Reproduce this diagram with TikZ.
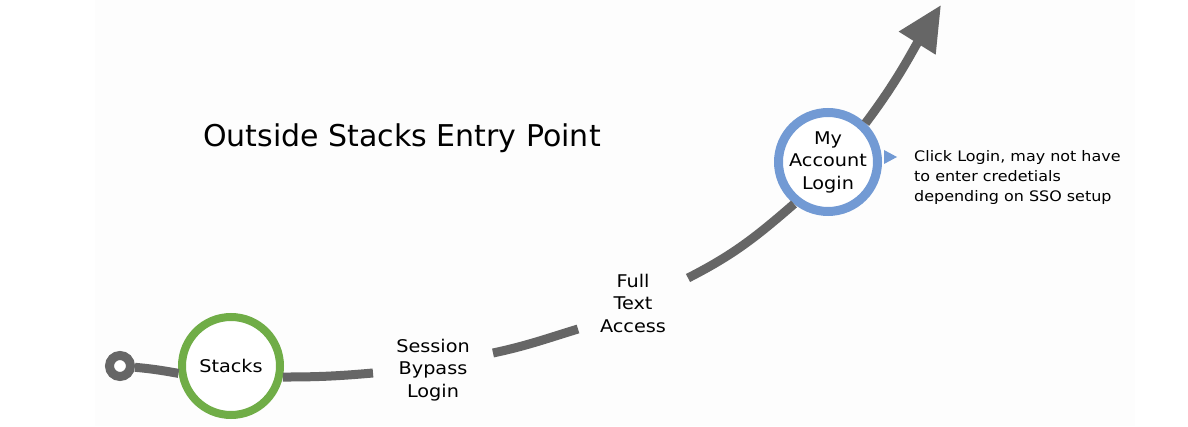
\documentclass[tikz,border=0pt]{standalone}
\usepackage{fontspec}
\setmainfont{DejaVu Sans}
\newfontfamily\widefont{DejaVu Sans}[FakeStretch=1.1]
\usetikzlibrary{arrows.meta}
\definecolor{pathgray}{HTML}{666666}
\definecolor{stackgreen}{HTML}{70AD47}
\definecolor{acctblue}{HTML}{729AD4}
\definecolor{faintbg}{HTML}{FDFDFD}
\tikzset{
  ring/.style={circle, draw, fill=white, inner sep=0pt},
  lblfont/.style={font=\widefont\fontsize{17.5pt}{22.5pt}\selectfont},
  lbl/.style={align=center, lblfont, inner sep=0pt},
  track/.style={draw=pathgray, line width=9pt},
}
\begin{document}
\begin{tikzpicture}[x=1pt,y=1pt]
\useasboundingbox (0,0) rectangle (1188,426);
\fill[white] (0,0) rectangle (1188,426);
\fill[faintbg] (95,0) rectangle (1135,426);

% nodes
\node[ring, draw=pathgray, line width=9pt, minimum size=21pt] (start) at (120,60) {};
\node[ring, draw=stackgreen, line width=8pt, minimum size=98pt, lblfont] (stacks) at (231,60) {Stacks};
\node[ring, draw=acctblue, line width=9pt, minimum size=95pt, align=center, lblfont] (acct) at (828,264) {My\\Account\\Login};
\node[lbl] (sbl) at (433,56) {Session\\Bypass\\Login};
\node[lbl] (fta) at (633,123) {Full\\Text\\Access};
\node[font=\fontsize{30pt}{36pt}\selectfont, inner sep=0pt] (title) at (402,288) {Outside Stacks Entry Point};
\node[anchor=west, align=left, font=\widefont\fontsize{14.5pt}{20pt}\selectfont, inner sep=0pt] (desc) at (914,248) {Click Login, may not have\\to enter credetials\\depending on SSO setup};

\coordinate (c1) at (373,53);
\coordinate (c2) at (493,73);
\coordinate (c3) at (578,97);
\coordinate (c4) at (688,148);
\coordinate (tip) at (941,421);

% track segments
\draw[track] (start) to[out=-5,in=170] (stacks.188);
\draw[track] (stacks.-12) to[out=0,in=185] (c1);
\draw[track] (c2) to[out=12,in=197] (c3);
\draw[track] (c4) to[out=27,in=221] (acct.231);
\draw[track, -{Triangle[length=45pt,width=41pt]}] (acct.46) to[out=53,in=238] (tip);

% pointer triangle
\fill[acctblue] (884,276) -- (897,269) -- (884,262) -- cycle;
\end{tikzpicture}
\end{document}
